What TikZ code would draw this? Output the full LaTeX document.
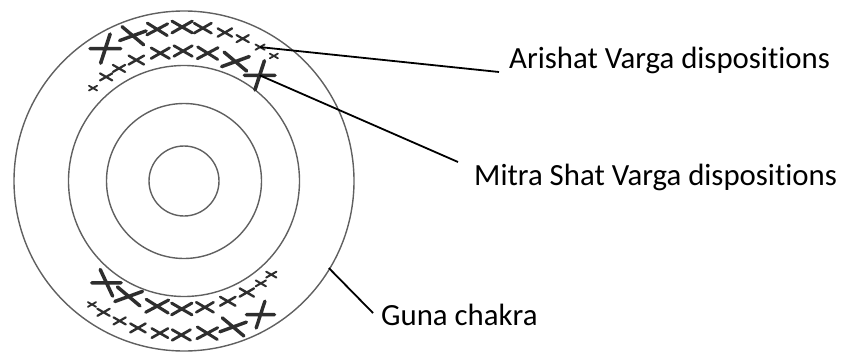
\documentclass[tikz,border=0pt]{standalone}
\usepackage{fontspec}
\setmainfont{Carlito}[Ligatures=NoCommon]
\definecolor{ringgray}{HTML}{606060}
\definecolor{markcol}{HTML}{2E2E2E}
\begin{document}
\begin{tikzpicture}[x=1pt,y=1pt,
  ring/.style={draw=ringgray, line width=1.4pt},
  leader/.style={draw=black, line width=1.8pt},
  caption/.style={anchor=base west, inner sep=0pt, font=\fontsize{30.8}{36}\selectfont}]
\useasboundingbox (0,0) rectangle (861,354);
\coordinate (c) at (184,173);

% concentric rings of the chakra
\foreach \r in {170,115.5,77.5,35}
  \draw[ring] (c) circle[radius=\r];

% cross marks: angle / ring radius / half width / stroke angles
\foreach \a/\rr/\h/\p/\q in {
  % upper band, outer row
  120.7/154/13/0/72, 109.4/154/12/20/140, 100/154/10/28/148, 90.7/154/10/30/150,
  83/154/8.5/30/150, 74.6/154/7/30/150, 67.6/154/6/30/150, 60.4/154/4.5/30/150,
  54.3/154/4/30/150,
  % upper band, inner row
  134.4/130/4/30/150, 126.8/130/6/30/150, 120/130/6/30/150, 111.5/130/7.5/30/150,
  100.5/130/9/30/150, 90.4/130/9/30/150, 79.5/130/10/28/148, 66.7/130/12.5/20/140,
  54.4/130/13/0/72,
  % lower band, inner row
  232.7/128/12.5/0/115, 244.4/128/12.5/20/140, 257.9/128/11/28/148, 269/128/10/30/150,
  279.4/128/8.5/30/150, 290/128/7.5/30/150, 299.4/128/7/30/150, 306.9/128/5/30/150,
  313/128/5/30/150,
  % lower band, outer row
  233.3/154/4/30/150, 238.5/154/6/30/150, 245.3/154/6/30/150, 252.6/154/7.5/30/150,
  261/154/8/30/150, 269/154/9/30/150, 278.7/154/10/28/148, 288.6/154/12/20/140,
  299.8/154/12/0/72}
{
  \pgfmathsetmacro\L{\h/0.85}
  \pgfmathsetmacro\w{1.0+0.2*\h}
  \path (c) ++(\a:\rr) coordinate (m);
  \draw[markcol, line width=\w pt, line cap=round]
    (m) ++(\p:\L) -- ++({\p+180}:{2*\L})
    (m) ++(\q:\L) -- ++({\q+180}:{2*\L});
}

% anchors of the leader lines
\path (c) ++(60.4:154) coordinate (arishatTip);
\path (c) ++(54.4:130) coordinate (mitraTip);
\path (c) ++(-31:169) coordinate (gunaTip);

% labels
\node[caption] (arishat) at (509,285.7) {Arishat Varga dispositions};
\node[caption] (mitra) at (474,169) {Mitra Shat Varga dispositions};
\node[caption] (guna) at (381,29) {Guna chakra};

% leader lines
\draw[leader] (arishatTip) -- ([shift={(-10,-3.7)}]arishat.base west);
\draw[leader] (mitraTip) -- ([shift={(-16,23)}]mitra.base west);
\draw[leader] (gunaTip) -- ([shift={(-8,12)}]guna.base west);
\end{tikzpicture}
\end{document}
